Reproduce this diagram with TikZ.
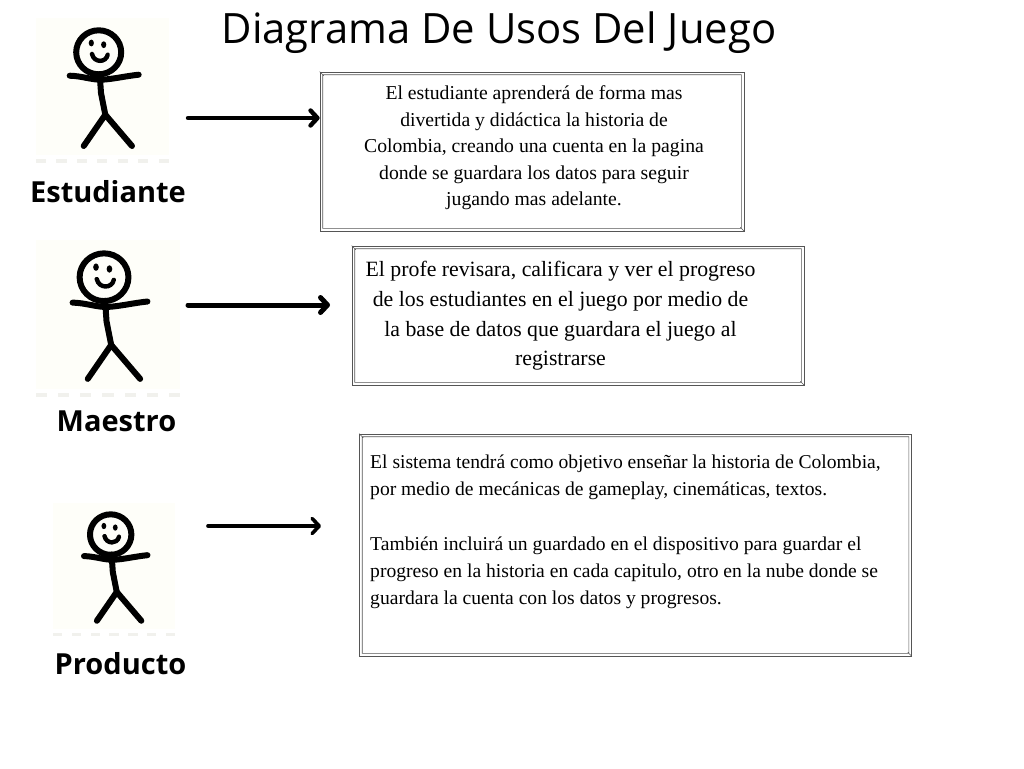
\documentclass[tikz,border=0pt]{standalone}
\usepackage{fontspec}
\usetikzlibrary{arrows.meta}
\setmainfont{Liberation Serif}
\newfontfamily\opensans{Open Sans}
\definecolor{figbg}{HTML}{FEFEF9}
\definecolor{figdash}{HTML}{F1F1ED}
\definecolor{framegray}{HTML}{555555}
\tikzset{
  figline/.style={line width=6pt,line cap=round,line join=round},
  usearrow/.style={-{Straight Barb[length=7pt,width=15pt,round]},line width=4.4pt,line cap=round},
  framebox/.style={draw=framegray,line width=.6pt,inner sep=0pt,
    append after command={\pgfextra{
      \draw[framegray,line width=.6pt]
        ([shift={(3,3)}]\tikzlastnode.north west) rectangle ([shift={(-3,-3)}]\tikzlastnode.south east)
        (\tikzlastnode.north west) -- ++(4,4)
        (\tikzlastnode.south east) -- ++(-4,-4);
    }}},
  rolelabel/.style={font=\opensans\bfseries\fontsize{29}{33}\selectfont},
  stickman/.pic={
    % Background
    \fill[figbg] (0,0) rectangle (132.7,137);
    \foreach \i in {0,...,6}
      \fill[figdash] (\i*20.42,141) rectangle ++(10.2,3.5);
    % Figure
    \draw[figline] (62.7,34.3) ellipse [x radius=22.5,y radius=22];
    \fill (55.3,25) ellipse [x radius=2.6,y radius=3.4];
    \fill (67.7,26.7) ellipse [x radius=2.6,y radius=3.4];
    \draw[line width=4.4pt,line cap=round] (56,36) .. controls (58,45) and (70,45) .. (71.7,36.7);
    \draw[figline] (33.7,57.7) .. controls (46,58) and (56,62) .. (66,61.7) .. controls (78,61) and (90,58) .. (102.7,56.7);
    \draw[figline] (63.7,56) -- (65,75) -- (69.3,96.7);
    \draw[figline] (47.7,128) -- (69.3,96.7) -- (96,128);
  }
}
\begin{document}
\begin{tikzpicture}[x=1pt,y=-1pt]
  \useasboundingbox (0,0) rectangle (1024,768);
  % Title
  \node (title) at (499,33) {\opensans\fontsize{41.8}{50}\selectfont Diagrama De Usos Del Juego};
  % Actors
  \pic at (36,18) {stickman};
  \pic[scale=1.085] at (36,240) {stickman};
  \pic[scale=.92] at (53,503) {stickman};
  \node[rolelabel] (estudiante) at (108,192) {Estudiante};
  \node[rolelabel] (maestro) at (116.5,421) {Maestro};
  \node[rolelabel] (producto) at (120.5,664) {Producto};
  % Frames
  \node[framebox,minimum width=424pt,minimum height=159pt] (box1) at (532,151.5) {};
  \node[framebox,minimum width=452pt,minimum height=139pt] (box2) at (578,315.5) {};
  \node[framebox,minimum width=552pt,minimum height=222pt] (box3) at (635.5,545) {};
  % Texts
  \node[align=center,font=\fontsize{19.7}{26.5}\selectfont] (text1) at (534,148) {El estudiante aprenderá de forma mas\\divertida y didáctica la historia de\\Colombia, creando una cuenta en la pagina\\donde se guardara los datos para seguir\\jugando mas adelante.};
  \node[align=center,font=\fontsize{21.8}{29.7}\selectfont] (text2) at (560.5,316) {El profe revisara, calificara y ver el progreso\\de los estudiantes en el juego por medio de\\la base de datos que guardara el juego al\\registrarse};
  \node[align=left,font=\fontsize{19.6}{27.3}\selectfont,anchor=north west,inner sep=0pt] (text3) at (370,454.5) {El sistema tendrá como objetivo enseñar la historia de Colombia,\\por medio de mecánicas de gameplay, cinemáticas, textos.\\[27.3pt]También incluirá un guardado en el dispositivo para guardar el\\progreso en la historia en cada capitulo, otro en la nube donde se\\guardara la cuenta con los datos y progresos.};
  % Arrows
  \coordinate (from1) at (188,118);
  \coordinate (from2) at (188,305);
  \coordinate (to2) at (330,305);
  \coordinate (from3) at (208,526);
  \coordinate (to3) at (321,526);
  \draw[usearrow] (from1) -- (box1.west |- from1);
  \draw[usearrow,line width=5pt] (from2) -- (to2);
  \draw[usearrow,line width=3.6pt] (from3) -- (to3);
\end{tikzpicture}
\end{document}
